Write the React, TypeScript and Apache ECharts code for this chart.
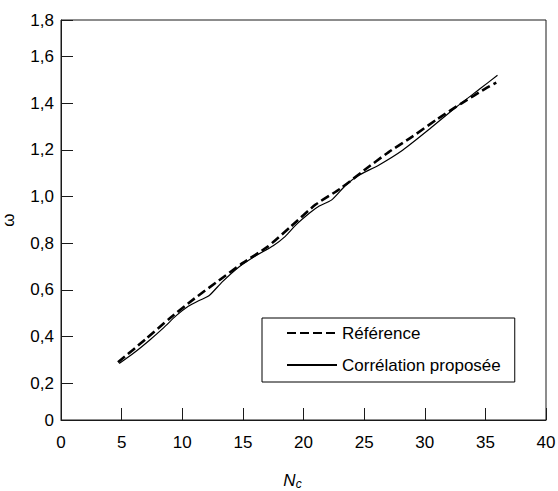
import React, { useEffect, useRef } from "react";
import * as echarts from "echarts";

// Reference curve (dashed)
const refX = [4.7, 7, 9, 11, 13, 15, 17, 19, 21, 23, 25, 27, 29, 31, 33, 35, 35.9];
const refY = [0.29, 0.39, 0.48, 0.563, 0.64, 0.716, 0.784, 0.874, 0.966, 1.033, 1.113, 1.19, 1.258, 1.331, 1.399, 1.463, 1.489];

// Proposed correlation (solid)
const corX = [4.8, 6, 7.3, 8.5, 9.5, 10.5, 11.4, 12.2, 13.3, 14.7, 16, 17.5, 18.5, 19.4, 20.5, 21.3, 22.3, 23.5, 24.5, 26.2, 28.2, 30.4, 32.5, 34.5, 36];
const corY = [0.285, 0.33, 0.385, 0.44, 0.49, 0.53, 0.555, 0.575, 0.635, 0.7, 0.745, 0.79, 0.83, 0.88, 0.93, 0.96, 0.985, 1.05, 1.09, 1.135, 1.2, 1.29, 1.38, 1.46, 1.52];

const seriesNames = ["Référence", "Corrélation proposée"];

// Axis ranges (the original's y ticks are spaced slightly wider than the frame)
const xMin = 0;
const xMax = 40;
const xStep = 5;
const yFrameMin = 0.0429;
const yFrameMax = 1.757;
const yStep = 0.2;
const yEndLabels = ["0", "1,8"];

const FONT = "'Liberation Sans', Arial, Helvetica, sans-serif";

export default function App() {
  const ref = useRef<HTMLDivElement>(null);
  useEffect(() => {
    if (!ref.current) return;
    const chart = echarts.init(ref.current, null, { renderer: "svg" });
    const axisColor = "#1a1a1a";
    chart.setOption({
      animation: false,
      backgroundColor: "#ffffff",
      textStyle: { fontFamily: FONT },
      grid: {
        left: 61,
        top: 20,
        width: 485,
        height: 400,
        outerBoundsMode: "none",
        containLabel: false,
        show: true,
        borderColor: axisColor,
        borderWidth: 1,
        backgroundColor: "transparent",
      },
      xAxis: {
        type: "value",
        min: xMin,
        max: xMax,
        interval: xStep,
        name: "{n|N}{s|c}",
        nameLocation: "middle",
        nameGap: 50,
        nameTextStyle: {
          padding: [0, 22, 0, 0],
          rich: {
            n: { fontStyle: "italic", fontSize: 17, color: "#000", fontFamily: FONT },
            s: { fontStyle: "italic", fontSize: 12, color: "#000", fontFamily: FONT, padding: [8, 0, 0, 0] },
          },
        },
        axisLine: { show: true, lineStyle: { color: axisColor, width: 1 } },
        axisTick: { show: true, inside: true, length: 12, lineStyle: { color: axisColor, width: 1 } },
        axisLabel: { fontSize: 17, color: "#000", margin: 14, fontFamily: FONT },
        splitLine: { show: false },
      },
      yAxis: {
        type: "value",
        min: yFrameMin,
        max: yFrameMax,
        minInterval: yStep,
        maxInterval: yStep,
        name: "ω",
        nameLocation: "middle",
        nameRotate: 90,
        nameGap: 44,
        nameTextStyle: { fontSize: 17, color: "#000", fontFamily: FONT },
        axisLine: { show: true, lineStyle: { color: axisColor, width: 1 } },
        axisTick: { show: true, inside: true, length: 12, lineStyle: { color: axisColor, width: 1 } },
        axisLabel: {
          fontSize: 17,
          color: "#000",
          margin: 7,
          fontFamily: FONT,
          formatter: (v: number) => {
            if (v < yStep / 2) return yEndLabels[0];
            if (v > yFrameMax - 0.05) return yEndLabels[1];
            return v.toFixed(1).replace(".", ",");
          },
        },
        splitLine: { show: false },
      },
      legend: {
        left: 262,
        top: 318,
        orient: "vertical",
        backgroundColor: "#fff",
        borderColor: "#000",
        borderWidth: 1,
        padding: [6, 14, 8, 24],
        itemGap: 14,
        itemWidth: 50,
        itemHeight: 14,
        itemStyle: { opacity: 0, borderWidth: 0 },
        textStyle: { fontSize: 17, color: "#000", lineHeight: 18, fontFamily: FONT },
        data: seriesNames,
      },
      series: [
        {
          name: seriesNames[0],
          type: "line",
          symbol: "none",
          smooth: 0.2,
          data: refX.map((x, i) => [x, refY[i]]),
          lineStyle: { color: "#000", width: 2.6, type: [9, 4] },
          itemStyle: { color: "#000" },
          z: 3,
        },
        {
          name: seriesNames[1],
          type: "line",
          symbol: "none",
          smooth: 0.2,
          data: corX.map((x, i) => [x, corY[i]]),
          lineStyle: { color: "#000", width: 1.2, type: "solid" },
          itemStyle: { color: "#000" },
          z: 2,
        },
      ],
    });
    return () => chart.dispose();
  }, []);
  return (
    <div
      ref={ref}
      style={{ position: "fixed", left: 0, top: 0, width: 558, height: 491, background: "#fff" }}
    />
  );
}
